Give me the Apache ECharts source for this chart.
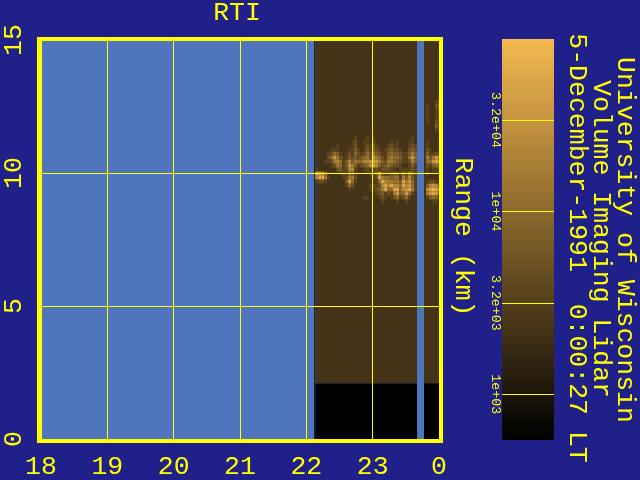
<!DOCTYPE html>
<html>
<head>
<meta charset="utf-8">
<style>html,body{margin:0;padding:0;background:#20208a}#c{width:640px;height:480px}</style>
<script src="https://cdn.jsdelivr.net/npm/echarts@6/dist/echarts.min.js"></script>
</head>
<body>
<div id="c"></div>
<script>
const hourTicks = ['18','19','20','21','22','23','0'];
const rangeTicks = ['0','5','10','15'];
const barValues = [3, 3.5, 4, 4.5];
const barLabels = ['1e+03','3.2e+03','1e+04','3.2e+04'];
const barLogMin = 2.75, barLogMax = 4.943;
const scans = [[22.135,23.669],[23.774,24]];
const edgeScan = [22.12,22.135];
const noiseFloorTopKm = 2.1;
const baseLog = 3.36, levelLogStep = 0.17;
const firstHour = 22.135, hourStep = 0.0451;
const firstRowKm = 13.05, kmStep = 0.15;
// Backscatter levels 0-9, one string per row from top to bottom, '.' = no data
const levelRows = [
"00000 00000 00000 00000 00000 00000 0000 ... 00000",
"00000 00000 00000 00000 00000 00000 0000 ... 00000",
"00000 00000 00000 00000 00000 00000 0000 ... 00013",
"00000 00000 00000 00000 00000 00000 0000 ... 10024",
"00000 00000 00000 00000 00000 00000 0000 ... 10013",
"00000 00000 00000 00000 00000 00000 0000 ... 10012",
"00000 00000 00000 00000 00000 00000 0000 ... 10012",
"00000 00000 00000 00000 00000 00000 0000 ... 10021",
"00000 00000 00000 00000 00000 00000 0000 ... 00031",
"00000 00000 00000 00000 00000 00000 0000 ... 00011",
"00000 00000 00000 00000 00000 00000 0000 ... 00000",
"00000 00000 00010 00101 00000 00000 0010 ... 00000",
"00000 00000 00120 01102 00000 10100 0110 ... 10000",
"00000 00100 00120 01213 10001 21100 0121 ... 10000",
"00000 11100 01131 01313 21012 32210 0232 ... 21000",
"00001 24310 12142 12425 32113 43321 1353 ... 31121",
"00002 47521 13232 34527 54214 54431 1474 ... 53575",
"00011 25641 36354 46678 75325 54321 1253 ... 44786",
"00000 12541 37531 23468 63234 32210 0131 ... 21343",
"10000 00231 26610 01211 21222 11011 1121 ... 10111",
"88740 00012 14310 00012 37211 23314 2531 ... 10000",
"68851 00001 25520 00001 28544 34415 3631 ... 00000",
"12210 00000 38410 00000 14865 54538 5741 ... 12210",
"00000 00000 14200 00012 12686 86648 6741 ... 36763",
"00000 00000 01000 00011 23584 48846 7851 ... 68986",
"00000 00000 00000 00000 12312 15734 7410 ... 57874",
"00000 00000 00000 01100 01210 12412 4100 ... 13431",
"00000 00000 00000 00000 00100 00100 1000 ... 00110"
];
const colorTop = [245,185,80];
const yellow = '#ffff00';
const bg = '#20208a';
const noData = '#4f75be';
const mono = '"Liberation Mono"';

function colorOf(logV){
  const t = Math.max(0, Math.min(1, (logV - barLogMin) / (barLogMax - barLogMin)));
  return 'rgb(' + colorTop.map(c => Math.round(c * t)).join(',') + ')';
}
const blocks = [];
blocks.push([edgeScan[0], edgeScan[1], 0, 15, barLogMin]);
scans.forEach(s => {
  blocks.push([s[0], s[1], 0, noiseFloorTopKm, barLogMin]);
  blocks.push([s[0], s[1], noiseFloorTopKm, 15, baseLog]);
});
levelRows.forEach((row, j) => {
  row.replace(/ /g,'').split('').forEach((ch, i) => {
    if (ch === '.' || ch === '0') return;
    const h0 = firstHour + i * hourStep, k1 = firstRowKm - j * kmStep;
    blocks.push([h0, h0 + hourStep, k1 - kmStep, k1, baseLog + (+ch) * levelLogStep]);
  });
});
function rectItem(params, api){
  const a = api.coord([api.value(0), api.value(3)]);
  const b = api.coord([api.value(1), api.value(2)]);
  const shape = echarts.graphic.clipRectByRect(
    {x:a[0], y:a[1], width:b[0]-a[0], height:b[1]-a[1]},
    {x:params.coordSys.x, y:params.coordSys.y, width:params.coordSys.width, height:params.coordSys.height});
  return shape && {type:'rect', shape:shape, style:{fill:colorOf(api.value(4))}};
}
const chart = echarts.init(document.getElementById('c'), null, {renderer:'canvas'});
function rotText(x, y, text, rot){
  return {type:'text', x:x, y:y, rotation:rot, z:200,
    style:{text:text, fill:yellow, font:'26.5px '+mono, align:'center', verticalAlign:'middle'}};
}
chart.setOption({
  animation:false,
  backgroundColor:bg,
  grid:[
    {left:40, top:40, width:399, height:399, show:true, backgroundColor:noData, borderWidth:0},
    {left:502, top:39, width:52, height:401, show:false}
  ],
  xAxis:[
    {type:'value', gridIndex:0, min:18, max:24, interval:1, z:10,
     axisLine:{show:false}, axisTick:{show:false},
     splitLine:{show:true, lineStyle:{color:yellow, width:1}},
     axisLabel:{color:yellow, fontFamily:mono, fontSize:26.5, margin:14, hideOverlap:false,
       showMinLabel:true, showMaxLabel:true, formatter:v => hourTicks[Math.round(v-18)]}},
    {type:'value', gridIndex:1, min:0, max:1, show:false}
  ],
  yAxis:[
    {type:'value', gridIndex:0, min:0, max:15, interval:5, z:10,
     axisLine:{show:false}, axisTick:{show:false},
     splitLine:{show:true, lineStyle:{color:yellow, width:1}},
     axisLabel:{color:yellow, fontFamily:mono, fontSize:26.5, rotate:90, margin:14, hideOverlap:false,
       showMinLabel:true, showMaxLabel:true, formatter:v => rangeTicks[Math.round(v/5)]}},
    {type:'value', gridIndex:1, min:barLogMin, max:barLogMax, z:10,
     axisLine:{show:false},
     axisTick:{show:false, customValues:barValues},
     splitLine:{show:true, lineStyle:{color:yellow, width:1}},
     axisLabel:{color:yellow, fontFamily:mono, fontSize:13.3, rotate:-90, margin:0,
       customValues:barValues, formatter:v => barLabels[barValues.indexOf(v)]}}
  ],
  series:[
    {type:'custom', xAxisIndex:0, yAxisIndex:0, z:2, clip:true, silent:true,
     renderItem:rectItem, encode:{x:[0,1], y:[2,3]}, data:blocks},
    {type:'custom', xAxisIndex:1, yAxisIndex:1, z:2, silent:true,
     renderItem:(params, api) => {
       const a = api.coord([0, barLogMax]), b = api.coord([1, barLogMin]);
       return {type:'rect', shape:{x:a[0], y:a[1], width:b[0]-a[0], height:b[1]-a[1]},
         style:{fill:new echarts.graphic.LinearGradient(0,0,0,1,[
           {offset:0,color:colorOf(barLogMax)},{offset:1,color:colorOf(barLogMin)}])}};
     },
     data:[[0,barLogMin]]}
  ],
  graphic:[
    {type:'rect', z:150, shape:{x:39,y:39,width:402,height:402},
     style:{fill:null, stroke:yellow, lineWidth:4}},
    rotText(237, 13, 'RTI', 0),
    rotText(463, 237, 'Range (km)', -Math.PI/2),
    rotText(625, 240, 'University of Wisconsin', -Math.PI/2),
    rotText(601, 239, 'Volume Imaging Lidar', -Math.PI/2),
    rotText(577, 248, '5-December-1991  0:00:27 LT', -Math.PI/2)
  ]
});
</script>
</body>
</html>
